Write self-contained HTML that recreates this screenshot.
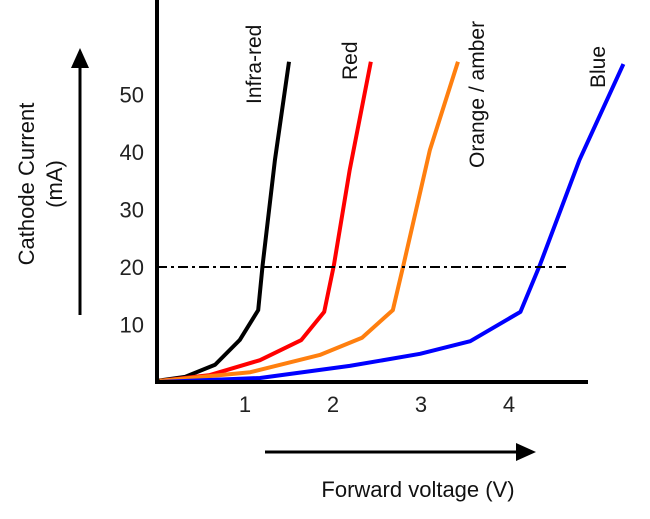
<!DOCTYPE html>
<html><head><meta charset="utf-8"><style>
body{margin:0;background:#fff;}
svg text{font-family:"Liberation Sans",sans-serif;}
</style></head><body>
<svg id="c" width="650" height="514" xmlns="http://www.w3.org/2000/svg"></svg>
<script>
const xTicks=[1,2,3,4];
const yTicks=[10,20,30,40,50];
const refCurrent=20;
const seriesNames=["Infra-red","Red","Orange / amber","Blue"];
const seriesColors=["#000000","#ff0000","#ff7f0f","#0000ff"];
const infraV=[0,0.32,0.66,0.94,1.15,1.2,1.34,1.5];
const infraI=[0.2,0.9,3,7.3,12.5,20.3,38.6,55.7];
const redV=[0.03,0.6,1.17,1.64,1.9,2.01,2.19,2.43];
const redI=[0.2,1.2,3.8,7.3,12.2,20.3,36.9,55.7];
const orangeV=[0.03,1.06,1.85,2.33,2.68,2.8,3.1,3.42];
const orangeI=[0.2,1.7,4.7,7.7,12.5,20.3,40.3,55.7];
const blueV=[0.03,1.17,2.19,2.99,3.56,4.13,4.35,4.8,5.3];
const blueI=[0,0.7,2.8,4.9,7.1,12.2,20.3,38.6,55.3];
const X=v=>157+v*88;
const Y=i=>382-i*5.75;
const svg=document.getElementById('c');
const NS="http://www.w3.org/2000/svg";
function mk(tag,attrs,name,txt){const e=document.createElementNS(NS,tag);for(const k in attrs)e.setAttribute(k,attrs[k]);


if(txt)e.textContent=txt;svg.appendChild(e);return e;}
const sv=[infraV,redV,orangeV,blueV],si=[infraI,redI,orangeI,blueI];
sv.forEach((vs,k)=>{const d=vs.map((v,j)=>(j?'L':'M')+X(v)+','+Y(si[k][j])).join(' ');
mk('path',{d:d,fill:'none',stroke:seriesColors[k],'stroke-width':4,'stroke-linejoin':'round'},'series-'+k);});
mk('line',{x1:157,y1:0,x2:157,y2:384,stroke:'#000','stroke-width':4},'y-axis');
mk('line',{x1:155,y1:382,x2:588,y2:382,stroke:'#000','stroke-width':4},'x-axis');
mk('line',{x1:X(0),y1:Y(refCurrent),x2:566,y2:Y(refCurrent),stroke:'#000','stroke-width':2,'stroke-dasharray':'10,4,3,4'},'reference-line-20ma');
xTicks.forEach(t=>mk('text',{x:X(t),y:412,'font-size':22,'text-anchor':'middle',fill:'#222'},'x-tick-label',String(t)));
yTicks.forEach(t=>mk('text',{x:144,y:Y(t)+8,'font-size':22,'text-anchor':'end',fill:'#222'},'y-tick-label',String(t)));
const lab=[[261,104],[357,80],[484,168],[605,88]];
seriesNames.forEach((n,k)=>mk('text',{x:lab[k][0],y:lab[k][1],'font-size':21,transform:`rotate(-90 ${lab[k][0]} ${lab[k][1]})`,fill:'#111'},'series-label',n));
mk('line',{x1:80,y1:315,x2:80,y2:65,stroke:'#000','stroke-width':3},'y-arrow');
mk('polygon',{points:'80,48 71,68 89,68',fill:'#000'},'y-arrow-head');
mk('line',{x1:265,y1:452,x2:518,y2:452,stroke:'#000','stroke-width':3},'x-arrow');
mk('polygon',{points:'536,452 516,443 516,461',fill:'#000'},'x-arrow-head');
mk('text',{x:34,y:184,'font-size':22,'text-anchor':'middle',transform:'rotate(-90 34 184)',fill:'#111'},'y-axis-title','Cathode Current');
mk('text',{x:62,y:184,'font-size':22,'text-anchor':'middle',transform:'rotate(-90 62 184)',fill:'#111'},'y-axis-unit','(mA)');
mk('text',{x:418,y:497,'font-size':22,'text-anchor':'middle',fill:'#111'},'x-axis-title','Forward voltage (V)');
</script>
</body></html>
